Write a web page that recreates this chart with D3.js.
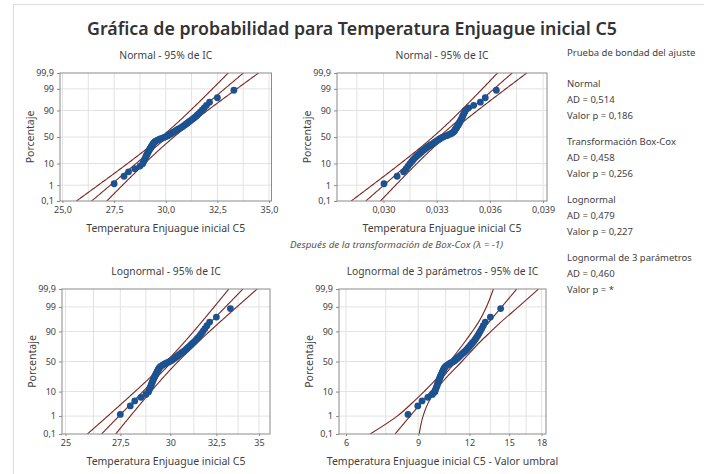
<!DOCTYPE html>
<html>
<head>
<meta charset="utf-8">
<script src="https://cdn.jsdelivr.net/npm/d3@7"></script>
<style>
  body { margin: 0; background: #fff; }
  svg { display: block; }
  text { font-family: "Noto Sans", "Open Sans", sans-serif; }
</style>
</head>
<body>
<svg id="chart" width="704" height="474"></svg>
<script>
// Temperatura Enjuague inicial C5 (sorted sample, n = 58)
const temperatures = [
  27.5, 27.98, 28.2, 28.5, 28.75, 28.88, 28.92, 28.96, 29.0, 29.03,
  29.06, 29.09, 29.12, 29.15, 29.18, 29.21, 29.24, 29.27, 29.3, 29.33,
  29.36, 29.39, 29.42, 29.46, 29.52, 29.6, 29.7, 29.8, 29.92, 30.02,
  30.1, 30.17, 30.24, 30.31, 30.38, 30.45, 30.52, 30.6, 30.68, 30.76,
  30.83, 30.9, 30.97, 31.04, 31.11, 31.19, 31.27, 31.35, 31.43, 31.51,
  31.59, 31.67, 31.76, 31.86, 31.97, 32.12, 32.5, 33.3
];

// Box-Cox lambda and 3-parameter lognormal threshold
const boxCoxLambda = -1;
const threshold = 19.0;

// Fitted location / scale per panel: normal, Box-Cox normal, lognormal, 3-par lognormal
const fitLocation = [30.085, 0.03313, 3.4045, 2.409];
const fitScale = [1.189, 0.001335, 0.0398, 0.1106];

// Percent axis
const percentTicks = [0.1, 1, 10, 50, 90, 99, 99.9];
const percentTickLabels = ["0,1", "1", "10", "50", "90", "99", "99,9"];

// X-axis ticks per panel
const normalTicks = [25, 27.5, 30, 32.5, 35];
const normalTickLabels = ["25,0", "27,5", "30,0", "32,5", "35,0"];
const boxCoxTicks = [0.030, 0.033, 0.036, 0.039];
const boxCoxTickLabels = ["0,030", "0,033", "0,036", "0,039"];
const lognormalTicks = [25, 27.5, 30, 32.5, 35];
const lognormalTickLabels = ["25", "27,5", "30", "32,5", "35"];
const thresholdTicks = [6, 9, 12, 15, 18];
const thresholdTickLabels = ["6", "9", "12", "15", "18"];

// 95% CI of the 3-parameter lognormal percentiles (value minus threshold)
const thresholdBandLevels = [0.1, 1, 5, 10, 20, 50, 80, 90, 95, 99, 99.9];
const thresholdBandLower = [6.87, 8.0, 8.85, 9.3, 9.85, 10.75, 11.7, 12.2, 12.6, 13.2, 13.73];
const thresholdBandUpper = [9.05, 9.25, 9.6, 9.9, 10.35, 11.5, 12.75, 13.55, 14.25, 15.8, 17.7];

// Goodness-of-fit summary
const gofNames = ["Normal", "Transformación Box-Cox", "Lognormal", "Lognormal de 3 parámetros"];
const gofAD = ["0,514", "0,458", "0,479", "0,460"];
const gofP = ["0,186", "0,256", "0,227", "*"];

// ---------------------------------------------------------------
function probit(p) {
  const a = [-3.969683028665376e+01, 2.209460984245205e+02, -2.759285104469687e+02,
             1.383577518672690e+02, -3.066479806614716e+01, 2.506628277459239e+00];
  const b = [-5.447609879822406e+01, 1.615858368580409e+02, -1.556989798598866e+02,
             6.680131188771972e+01, -1.328068155288572e+01];
  const c = [-7.784894002430293e-03, -3.223964580411365e-01, -2.400758277161838e+00,
             -2.549732539343734e+00, 4.374664141464968e+00, 2.938163982698783e+00];
  const d = [7.784695709041462e-03, 3.224671290700398e-01, 2.445134137142996e+00,
             3.754408661907416e+00];
  const pl = 0.02425, ph = 1 - pl;
  if (p < pl) {
    const q = Math.sqrt(-2 * Math.log(p));
    return (((((c[0]*q+c[1])*q+c[2])*q+c[3])*q+c[4])*q+c[5]) / ((((d[0]*q+d[1])*q+d[2])*q+d[3])*q+1);
  }
  if (p <= ph) {
    const q = p - 0.5, r = q * q;
    return (((((a[0]*r+a[1])*r+a[2])*r+a[3])*r+a[4])*r+a[5])*q / (((((b[0]*r+b[1])*r+b[2])*r+b[3])*r+b[4])*r+1);
  }
  const q = Math.sqrt(-2 * Math.log(1 - p));
  return -(((((c[0]*q+c[1])*q+c[2])*q+c[3])*q+c[4])*q+c[5]) / ((((d[0]*q+d[1])*q+d[2])*q+d[3])*q+1);
}

const n = temperatures.length;
const zMin = probit(0.001), zMax = probit(0.999);
const zSamples = d3.range(zMin, zMax + 1e-9, (zMax - zMin) / 160);
const ciHalf = (sigma, z) => 1.96 * sigma * Math.sqrt((1 + z * z / 2) / n);

const svg = d3.select("#chart");
const INK = "#3f3f3f";
const LINE = "#7c261f";
const DOT = "#1c5290";

svg.append("rect").attr("x", 13.5).attr("y", 4.5).attr("width", 700).attr("height", 480)
  .attr("fill", "#fff").attr("stroke", "#dcdcdc");

const panels = [
  { title: "Normal - 95% de IC", xTitle: "Temperatura Enjuague inicial C5",
    left: 60, right: 271.5, top: 73, bottom: 201, log: false, domain: [24.88, 35.12],
    ticks: normalTicks, labels: normalTickLabels, gridStep: 1.25,
    values: temperatures },
  { title: "Normal - 95% de IC", xTitle: "Temperatura Enjuague inicial C5",
    left: 337, right: 547, top: 73, bottom: 201, log: false, domain: [0.02738, 0.03922],
    ticks: boxCoxTicks, labels: boxCoxTickLabels, gridStep: 0.0015,
    values: temperatures.map(v => Math.pow(v, boxCoxLambda)) },
  { title: "Lognormal - 95% de IC", xTitle: "Temperatura Enjuague inicial C5",
    left: 62, right: 270, top: 289, bottom: 434, log: true, domain: [24.848, 35.676],
    ticks: lognormalTicks, labels: lognormalTickLabels, gridStep: 1.25,
    values: temperatures },
  { title: "Lognormal de 3 parámetros - 95% de IC", xTitle: "Temperatura Enjuague inicial C5 - Valor umbral",
    left: 339, right: 546, top: 289, bottom: 434, log: true, domain: [5.769, 18.45],
    ticks: thresholdTicks, labels: thresholdTickLabels, gridStep: 1.5,
    values: temperatures.map(v => v - threshold) }
];

panels.forEach((P, k) => {
  const x = (P.log ? d3.scaleLog() : d3.scaleLinear()).domain(P.domain).range([P.left, P.right]);
  const y = d3.scaleLinear().domain([zMin, zMax]).range([P.bottom, P.top]);
  const g = svg.append("g");
  const cx = (P.left + P.right) / 2, cy = (P.top + P.bottom) / 2;

  const clipId = "clip" + k;
  g.append("clipPath").attr("id", clipId).append("rect")
    .attr("x", P.left).attr("y", P.top).attr("width", P.right - P.left).attr("height", P.bottom - P.top);

  // grid
  const start = Math.ceil(P.domain[0] / P.gridStep - 1e-9);
  const stop = Math.floor(P.domain[1] / P.gridStep + 1e-9);
  const gridX = d3.range(start, stop + 1).map(i => i * P.gridStep);
  g.append("g").selectAll("line").data(gridX).join("line")
    .attr("x1", d => x(d)).attr("x2", d => x(d)).attr("y1", P.top).attr("y2", P.bottom)
    .attr("stroke", "#e2e2e2").attr("stroke-width", 1);
  g.append("g").selectAll("line").data(percentTicks.slice(1, -1)).join("line")
    .attr("x1", P.left).attr("x2", P.right)
    .attr("y1", d => y(probit(d / 100))).attr("y2", d => y(probit(d / 100)))
    .attr("stroke", "#e2e2e2").attr("stroke-width", 1);

  // fitted line and 95% confidence bands
  const mu = fitLocation[k], sigma = fitScale[k];
  const toAxis = P.log ? (w => Math.exp(w)) : (w => w);
  const line = d3.line().x(d => x(d[0])).y(d => y(d[1]));
  let curves;
  if (k < 3) {
    curves = [0, -1, 1].map(s => zSamples.map(z => [toAxis(mu + z * sigma + s * ciHalf(sigma, z)), z]));
  } else {
    curves = [zSamples.map(z => [Math.exp(mu + z * sigma), z])];
    const bandLine = d3.line().x(d => x(d[0])).y(d => y(d[1])).curve(d3.curveMonotoneY);
    [thresholdBandLower, thresholdBandUpper].forEach(arr => {
      const pts = thresholdBandLevels.map((p, i) => [arr[i], probit(p / 100)]).reverse();
      g.append("path").attr("clip-path", `url(#${clipId})`)
        .attr("d", bandLine(pts)).attr("fill", "none").attr("stroke", LINE).attr("stroke-width", 1.1);
    });
  }
  curves.forEach(c => {
    g.append("path").attr("clip-path", `url(#${clipId})`)
      .attr("d", line(c)).attr("fill", "none").attr("stroke", LINE).attr("stroke-width", 1.1);
  });

  // data points at median-rank plotting positions
  const sorted = P.values.slice().sort(d3.ascending);
  g.append("g").selectAll("circle").data(sorted).join("circle")
    .attr("cx", d => x(d))
    .attr("cy", (d, i) => y(probit((i + 1 - 0.3) / (n + 0.4))))
    .attr("r", 3.4).attr("fill", DOT);

  // frame
  g.append("rect").attr("x", P.left).attr("y", P.top)
    .attr("width", P.right - P.left).attr("height", P.bottom - P.top)
    .attr("fill", "none").attr("stroke", "#8a8a8a").attr("stroke-width", 1);

  // axes
  const xAxis = d3.axisBottom(x).tickValues(P.ticks).tickFormat((d, i) => P.labels[i])
    .tickSize(2).tickPadding(4);
  const ax = g.append("g").attr("transform", `translate(0,${P.bottom})`).call(xAxis);
  const yAxis = d3.axisLeft(y).tickValues(percentTicks.map(p => probit(p / 100)))
    .tickFormat((d, i) => percentTickLabels[i]).tickSize(3).tickPadding(3);
  const ay = g.append("g").attr("transform", `translate(${P.left},0)`).call(yAxis);
  [ax, ay].forEach(a => {
    a.select(".domain").remove();
    a.selectAll(".tick line").attr("stroke", "#8a8a8a");
    a.selectAll(".tick text").attr("fill", INK).attr("font-size", 9)
      .attr("font-family", '"Noto Sans", sans-serif');
  });

  // titles
  g.append("text").attr("x", cx).attr("y", P.top - 17).attr("text-anchor", "middle")
    .attr("dominant-baseline", "middle").attr("font-size", 10.3).attr("fill", INK).text(P.title);
  g.append("text").attr("x", cx).attr("y", P.bottom + 28).attr("text-anchor", "middle")
    .attr("dominant-baseline", "middle").attr("font-size", 10.5).attr("fill", INK).text(P.xTitle);
  g.append("text").attr("transform", `translate(${P.left - 29},${cy}) rotate(-90)`)
    .attr("text-anchor", "middle").attr("dominant-baseline", "middle")
    .attr("font-size", 10.5).attr("fill", INK).text("Porcentaje");
});

// main title
svg.append("text").attr("x", 352).attr("y", 30).attr("text-anchor", "middle")
  .attr("dominant-baseline", "middle").attr("font-size", 17.8).attr("font-weight", 600)
  .attr("fill", "#333").text("Gráfica de probabilidad para Temperatura Enjuague inicial C5");

// Box-Cox note
svg.append("text").attr("x", 290).attr("y", 245).attr("dominant-baseline", "middle")
  .attr("font-size", 9.8).attr("font-style", "italic").attr("fill", "#555")
  .text(`Después de la transformación de Box-Cox (λ = ${boxCoxLambda})`);

// goodness-of-fit panel
const gof = svg.append("g").attr("fill", INK).attr("font-size", 9.5);
gof.append("text").attr("x", 567).attr("y", 53).attr("dominant-baseline", "middle")
  .text("Prueba de bondad del ajuste");
gofNames.forEach((name, i) => {
  const y0 = 84 + i * 58;
  [name, `AD = ${gofAD[i]}`, `Valor p = ${gofP[i]}`].forEach((t, j) => {
    gof.append("text").attr("x", 567).attr("y", y0 + j * 16).attr("dominant-baseline", "middle").text(t);
  });
});
</script>
</body>
</html>
